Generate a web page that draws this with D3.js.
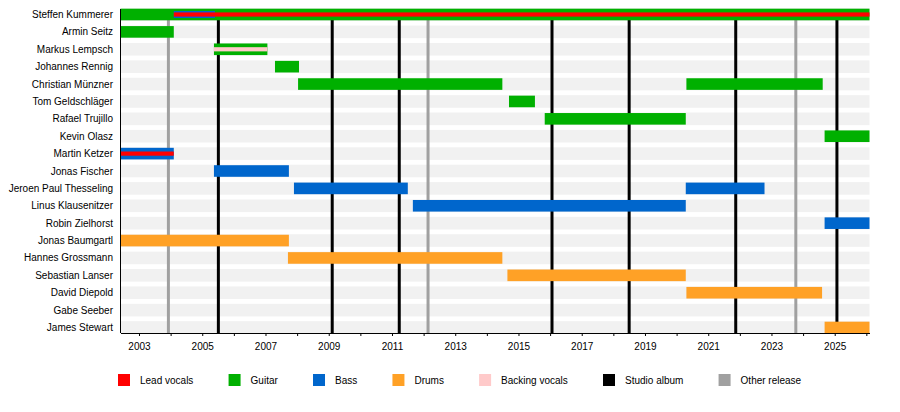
<!DOCTYPE html>
<html lang="en">
<head>
  <meta charset="UTF-8">
  <title>Obscura band members timeline</title>
  <style>
    body {
      margin: 0;
      background: #ffffff;
      font-family: "Liberation Sans", Arial, sans-serif;
    }
    svg text {
      font-size: 10px;
      fill: #000;
    }
  </style>
</head>
<body>
<div id="chart"></div>
<script src="https://d3js.org/d3.v7.min.js"></script>
<script>
  // start of the band and the day the chart was drawn, as decimal years
  const startYear = 2002.415;
  const endYear = 2026.1;

  const members = [
    "Steffen Kummerer", "Armin Seitz", "Markus Lempsch", "Johannes Rennig",
    "Christian Münzner", "Tom Geldschläger", "Rafael Trujillo", "Kevin Olasz",
    "Martin Ketzer", "Jonas Fischer", "Jeroen Paul Thesseling", "Linus Klausenitzer",
    "Robin Zielhorst", "Jonas Baumgartl", "Hannes Grossmann", "Sebastian Lanser",
    "David Diepold", "Gabe Seeber", "James Stewart"
  ];

  // [member, from, to]
  const guitarSpans = [
    ["Steffen Kummerer", startYear, endYear],
    ["Armin Seitz", startYear, 2004.1],
    ["Markus Lempsch", 2005.37, 2007.06],
    ["Johannes Rennig", 2007.3, 2008.06],
    ["Christian Münzner", 2008.03, 2014.49],
    ["Christian Münzner", 2020.31, 2024.62],
    ["Tom Geldschläger", 2014.7, 2015.52],
    ["Rafael Trujillo", 2015.83, 2020.29],
    ["Kevin Olasz", 2024.68, endYear]
  ];
  const bassSpans = [
    ["Martin Ketzer", startYear, 2004.1],
    ["Jonas Fischer", 2005.37, 2007.74],
    ["Jeroen Paul Thesseling", 2007.9, 2011.5],
    ["Jeroen Paul Thesseling", 2020.29, 2022.78],
    ["Linus Klausenitzer", 2011.66, 2020.29],
    ["Robin Zielhorst", 2024.68, endYear]
  ];
  const drumSpans = [
    ["Jonas Baumgartl", startYear, 2007.74],
    ["Hannes Grossmann", 2007.71, 2014.49],
    ["Sebastian Lanser", 2014.65, 2020.29],
    ["David Diepold", 2020.31, 2024.6],
    ["James Stewart", 2024.68, endYear]
  ];
  // secondary roles drawn as stripes inside the main bar
  const secondBassSpans = [
    ["Steffen Kummerer", 2004.1, 2005.4]
  ];
  const leadVocalSpans = [
    ["Steffen Kummerer", 2004.1, endYear],
    ["Martin Ketzer", startYear, 2004.1]
  ];
  const backingVocalSpans = [
    ["Markus Lempsch", 2005.37, 2007.06]
  ];

  const studioAlbums = [2005.51, 2009.11, 2011.23, 2016.06, 2018.5, 2021.87, 2025.07];
  const otherReleases = [2003.93, 2012.14, 2023.77];

  const tickYears = d3.range(2003, 2027);
  const legendItems = ["Lead vocals", "Guitar", "Bass", "Drums", "Backing vocals", "Studio album", "Other release"];

  const colors = {
    "Lead vocals": "#ff0000",
    "Guitar": "#00b000",
    "Bass": "#0066cc",
    "Drums": "#ffa126",
    "Backing vocals": "#ffcaca",
    "Studio album": "#000000",
    "Other release": "#a0a0a0"
  };

  const width = 900, height = 412;
  const plot = { left: 120.5, right: 869.5, top: 9, bottom: 333 };

  const svg = d3.select("#chart").append("svg")
    .attr("width", width)
    .attr("height", height);

  const x = d3.scaleLinear().domain([startYear, endYear]).range([plot.left, plot.right]);
  const y = d3.scalePoint().domain(members).range([14.5, 327.5]);

  const barH = 11.6;

  // row backgrounds
  svg.append("g").selectAll("rect")
    .data(members)
    .join("rect")
    .attr("x", plot.left)
    .attr("width", plot.right - plot.left)
    .attr("y", d => y(d) - 6.3)
    .attr("height", 12.6)
    .attr("fill", "#f1f1f1");

  // release lines
  const events = otherReleases.map(v => ["Other release", v]).concat(studioAlbums.map(v => ["Studio album", v]));
  svg.append("g").selectAll("line")
    .data(events)
    .join("line")
    .attr("x1", d => x(d[1]))
    .attr("x2", d => x(d[1]))
    .attr("y1", plot.top)
    .attr("y2", plot.bottom)
    .attr("stroke", d => colors[d[0]])
    .attr("stroke-width", 3);

  function drawSpans(spans, role, h) {
    svg.append("g").selectAll("rect")
      .data(spans)
      .join("rect")
      .attr("x", d => x(d[1]))
      .attr("width", d => x(d[2]) - x(d[1]))
      .attr("y", d => y(d[0]) - h / 2)
      .attr("height", h)
      .attr("fill", colors[role]);
  }

  drawSpans(guitarSpans, "Guitar", barH);
  drawSpans(bassSpans, "Bass", barH);
  drawSpans(drumSpans, "Drums", barH);
  drawSpans(secondBassSpans, "Bass", 7);
  drawSpans(leadVocalSpans, "Lead vocals", 4.2);
  drawSpans(backingVocalSpans, "Backing vocals", 4.2);

  // member names
  svg.append("g").selectAll("text")
    .data(members)
    .join("text")
    .attr("x", 113)
    .attr("y", d => y(d))
    .attr("dy", "0.35em")
    .attr("text-anchor", "end")
    .text(d => d);

  // time axis
  const axis = svg.append("g")
    .attr("transform", `translate(0,${plot.bottom})`)
    .call(d3.axisBottom(x)
      .tickValues(tickYears)
      .tickFormat(d => d % 2 === 1 ? d : "")
      .tickSize(3)
      .tickPadding(7)
      .tickSizeOuter(0));
  axis.selectAll("text").attr("font-family", "Liberation Sans, Arial, sans-serif").attr("font-size", 10);
  axis.select(".domain").attr("stroke", "#000");

  svg.append("line")
    .attr("x1", plot.left).attr("x2", plot.left)
    .attr("y1", plot.top).attr("y2", plot.bottom)
    .attr("stroke", "#000");

  // legend
  const legend = svg.append("g");
  let lx = 118;
  legendItems.forEach(name => {
    const item = legend.append("g").attr("transform", `translate(${lx},374)`);
    item.append("rect").attr("width", 12).attr("height", 12).attr("fill", colors[name]);
    const t = item.append("text").attr("x", 22).attr("y", 6).attr("dy", "0.35em").text(name);
    lx += 22 + t.node().getComputedTextLength() + 35.2;
  });
</script>
</body>
</html>
